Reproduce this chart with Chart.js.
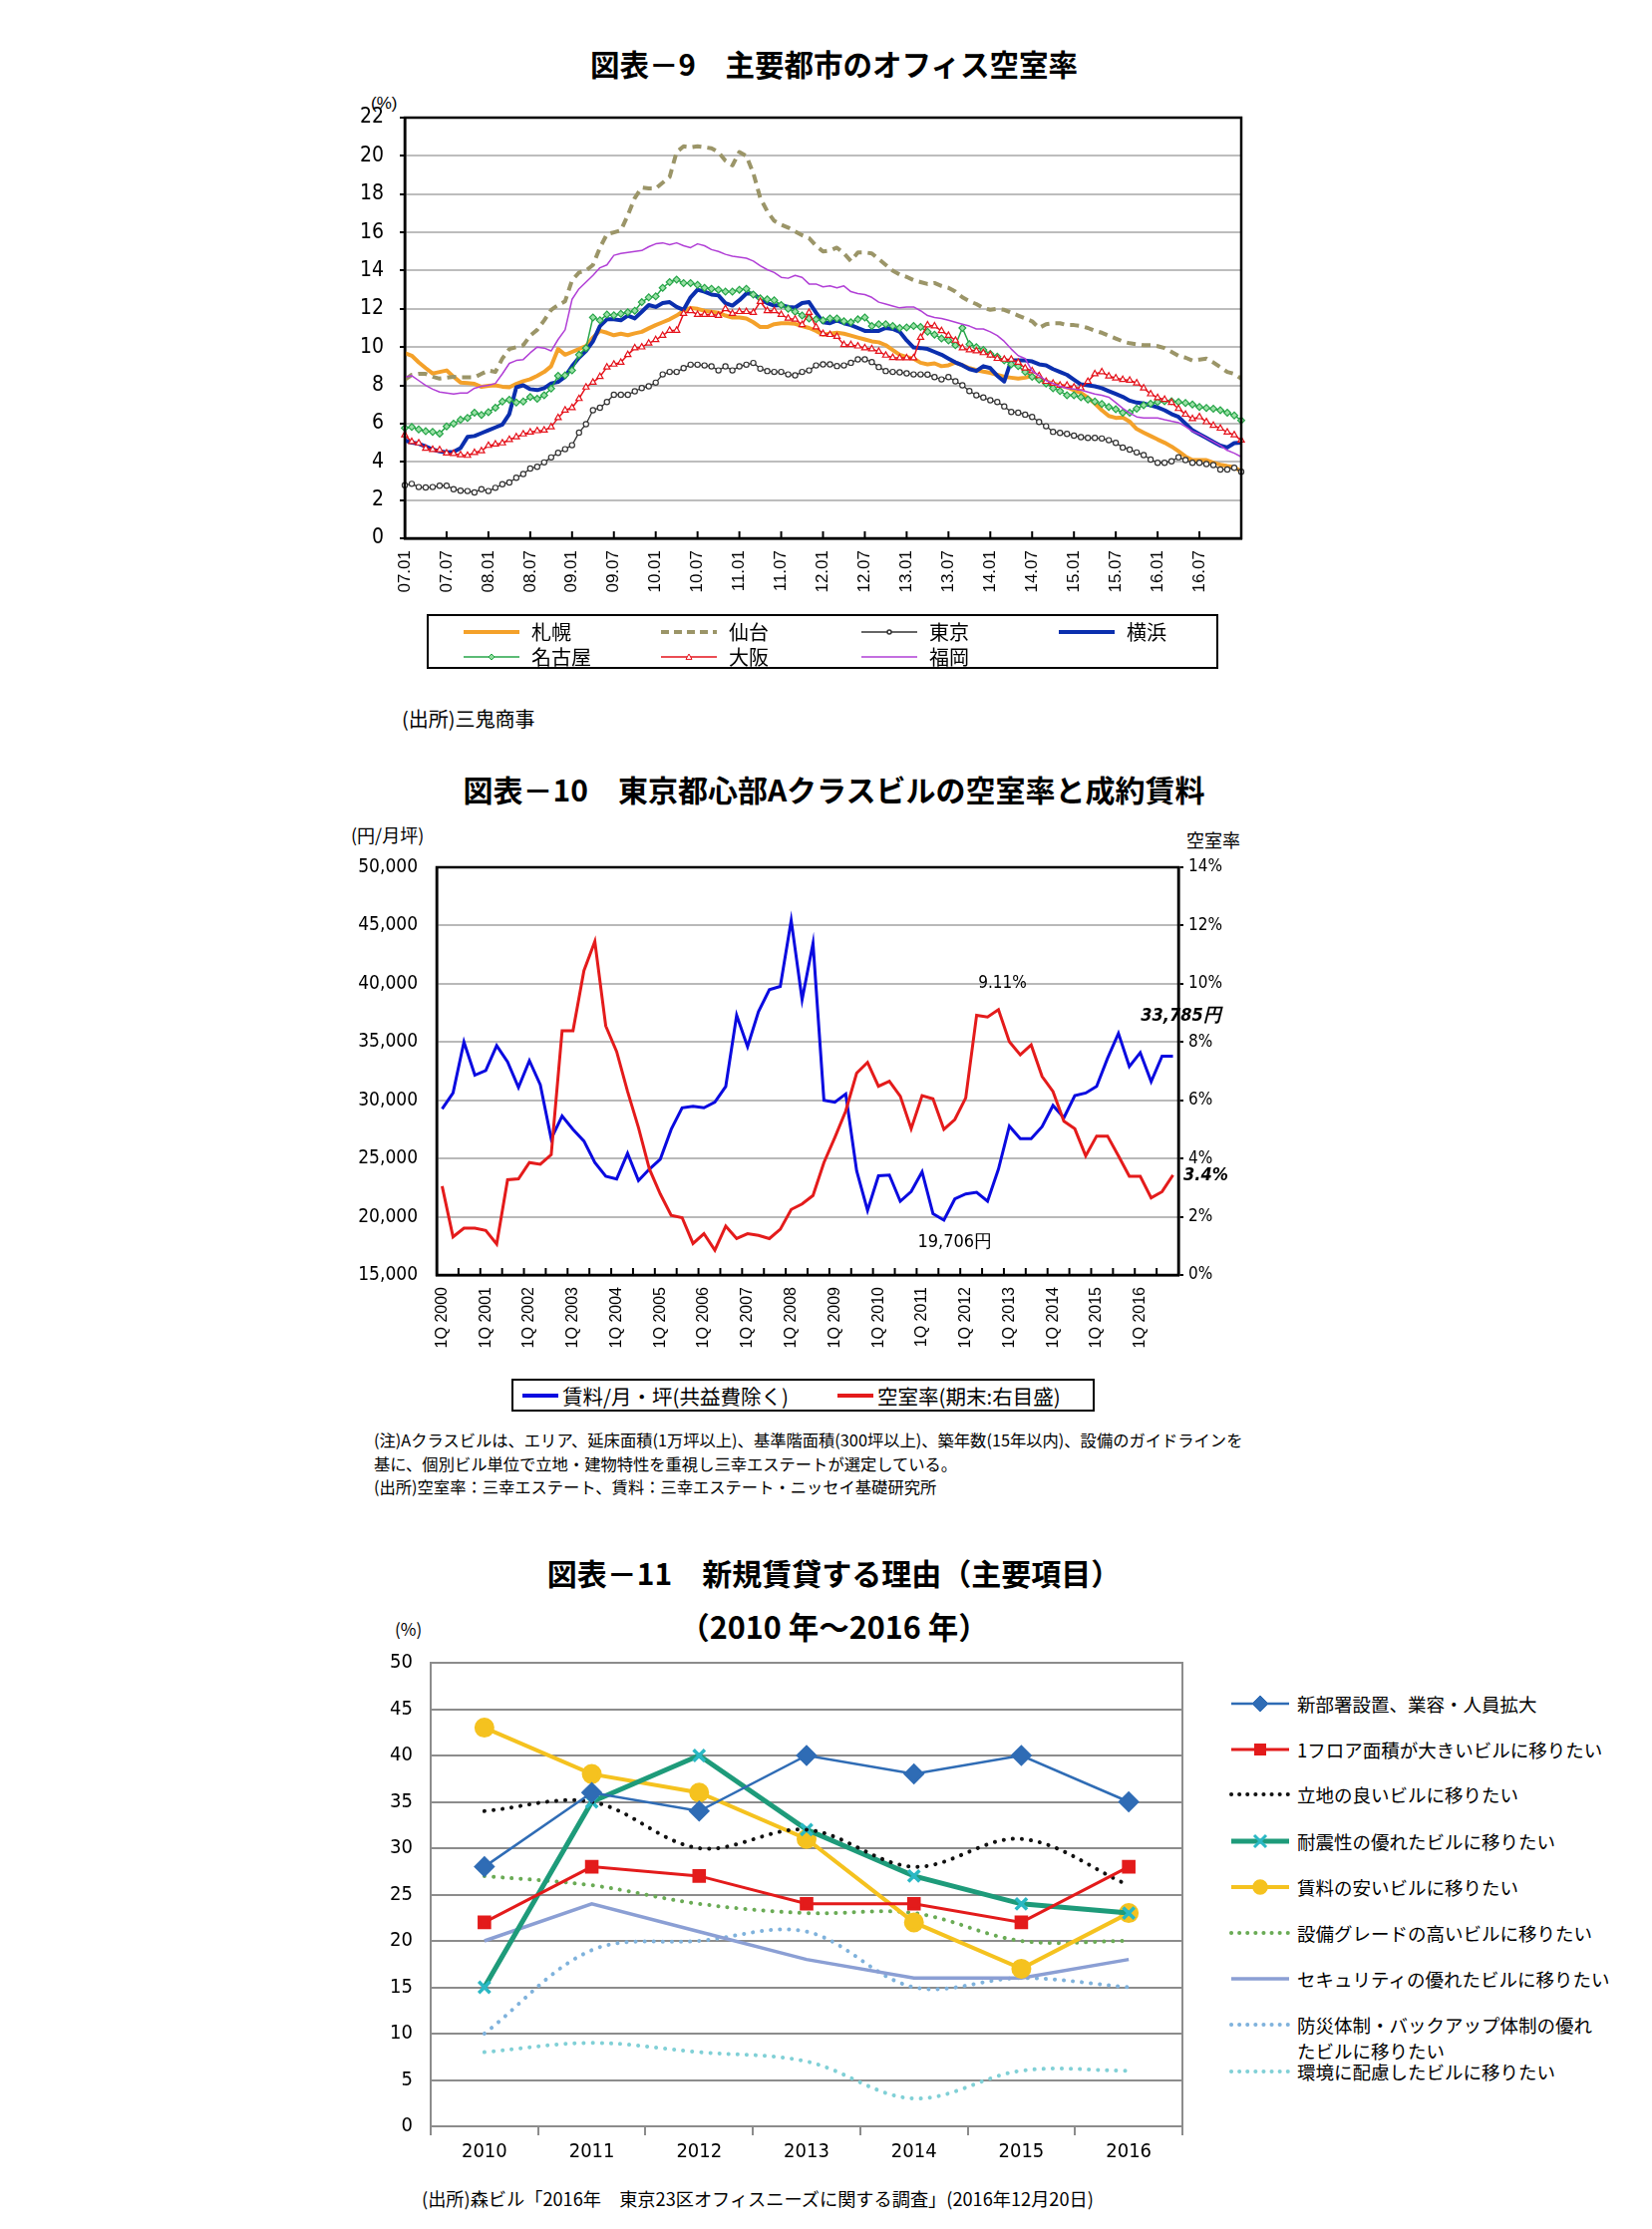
<!DOCTYPE html>
<html><head><meta charset="utf-8">
<script src="https://cdn.jsdelivr.net/npm/chart.js"></script>
<style>
body{margin:0;width:1657px;height:2236px;background:#fff;position:relative;overflow:hidden;font-family:"Noto Sans CJK JP",sans-serif;color:#000}
.t{position:absolute;white-space:nowrap;line-height:1}
.title{left:8px;width:1657px;text-align:center;font-weight:bold;font-size:30px}
.box{position:absolute;border:2px solid #000;box-sizing:border-box}
.cw{position:absolute}
.lg{position:absolute;display:flex;align-items:center;white-space:nowrap;line-height:1}
.lg svg{flex:none}
</style></head><body>

<div class="t title" style="top:49px;font-size:29.5px">図表－9　主要都市のオフィス空室率</div>
<div class="t" style="left:372px;top:95px;font-size:17px;font-family:'Liberation Sans',sans-serif">(%)</div>
<div class="cw" style="left:340px;top:90px;width:940px;height:530px"><canvas id="c1" width="940" height="530"></canvas></div>
<div class="box" id="lg1" style="left:428px;top:616px;width:794px;height:55px"></div>
<div class="t" style="left:403px;top:711px;font-size:20px">(出所)三鬼商事</div>

<div class="t title" style="top:776px">図表－10　東京都心部Aクラスビルの空室率と成約賃料</div>
<div class="t" style="left:352px;top:828px;font-size:18px">(円/月坪)</div>
<div class="t" style="left:1190px;top:833px;font-size:18px">空室率</div>
<div class="cw" style="left:340px;top:855px;width:940px;height:520px"><canvas id="c2" width="940" height="520"></canvas></div>
<div class="box" id="lg2" style="left:513px;top:1383px;width:585px;height:33px"></div>
<div class="t" style="left:375px;top:1433px;font-size:16.3px;line-height:23.5px">(注)Aクラスビルは、エリア、延床面積(1万坪以上)、基準階面積(300坪以上)、築年数(15年以内)、設備のガイドラインを<br>基に、個別ビル単位で立地・建物特性を重視し三幸エステートが選定している。<br>(出所)空室率：三幸エステート、賃料：三幸エステート・ニッセイ基礎研究所</div>

<div class="t title" style="top:1562px">図表－11　新規賃貸する理由（主要項目）</div>
<div class="t title" style="top:1616px;font-size:30.5px">（2010 年～2016 年）</div>
<div class="t" style="left:396px;top:1625px;font-size:17px">(%)</div>
<div class="cw" style="left:340px;top:1650px;width:880px;height:540px"><canvas id="c3" width="880" height="540"></canvas></div>
<div id="lg3"></div>
<div class="t" style="left:423px;top:2196px;font-size:18.2px">(出所)森ビル「2016年　東京23区オフィスニーズに関する調査」(2016年12月20日)</div>

<script>
// ---------- Chart 1 data (monthly, 07.01 - 17.01) ----------
const cities = ['札幌','仙台','東京','横浜','名古屋','大阪','福岡'];
const sapporo = [9.69,9.55,9.2,8.9,8.62,8.7,8.78,8.45,8.15,8.12,8.08,7.92,7.98,8.0,7.93,7.9,8.08,8.22,8.32,8.5,8.7,9.0,9.9,9.6,9.75,9.9,10.05,10.5,10.85,10.75,10.62,10.7,10.62,10.72,10.8,10.98,11.15,11.3,11.45,11.65,11.9,12.05,12.0,11.9,11.85,11.8,11.65,11.55,11.55,11.5,11.3,11.05,11.05,11.2,11.25,11.25,11.22,11.1,11.0,10.85,10.65,
 10.7,10.75,10.7,10.6,10.5,10.4,10.3,10.25,10.1,9.85,9.6,9.48,9.4,9.18,9.1,9.15,9.0,9.05,9.2,9.05,8.9,8.8,8.72,8.65,8.55,8.45,8.4,8.35,8.4,8.5,8.3,8.2,8.1,8.0,7.9,7.75,7.6,7.35,7.05,6.7,6.4,6.3,6.32,6.1,5.72,5.53,5.35,5.17,5.0,4.8,4.55,4.28,4.09,4.09,4.09,3.95,3.85,3.78,3.72,3.5];
const sendai = [8.3,8.55,8.6,8.6,8.45,8.35,8.4,8.45,8.42,8.42,8.42,8.6,8.78,8.7,9.4,9.9,10.0,10.1,10.6,10.9,11.4,11.95,12.2,12.4,13.5,13.9,14.0,14.3,15.2,15.9,16.0,16.1,16.9,17.8,18.35,18.3,18.3,18.6,18.9,20.2,20.5,20.45,20.5,20.45,20.4,20.2,19.75,19.5,20.2,20.0,19.1,17.8,17.1,16.6,16.4,16.25,16.05,15.85,15.7,15.3,15.0,
 15.05,15.2,14.9,14.5,14.95,14.95,14.9,14.6,14.3,14.0,13.8,13.67,13.5,13.4,13.3,13.35,13.2,13.1,12.9,12.6,12.4,12.25,12.05,11.95,12.0,11.95,11.8,11.65,11.5,11.35,11.0,11.2,11.25,11.25,11.15,11.15,11.1,11.0,10.85,10.75,10.6,10.45,10.3,10.2,10.15,10.1,10.1,10.05,9.95,9.75,9.55,9.45,9.3,9.35,9.4,9.2,8.95,8.7,8.6,8.35];
const tokyo = [2.78,2.85,2.68,2.66,2.68,2.75,2.75,2.57,2.49,2.47,2.40,2.57,2.47,2.64,2.83,2.92,3.17,3.36,3.65,3.74,3.97,4.23,4.47,4.66,4.87,5.53,5.97,6.70,6.83,7.13,7.51,7.51,7.51,7.69,7.86,7.95,8.14,8.57,8.70,8.70,8.90,9.08,9.08,9.04,8.99,8.78,8.99,8.78,8.99,9.08,9.17,8.87,8.75,8.70,8.70,8.57,8.52,8.70,8.78,9.04,9.1,
 9.10,9.01,9.04,9.18,9.36,9.36,9.22,8.96,8.75,8.70,8.68,8.63,8.57,8.57,8.56,8.43,8.31,8.43,8.21,8.0,7.70,7.48,7.36,7.22,7.13,6.90,6.61,6.57,6.47,6.35,6.09,5.86,5.57,5.51,5.46,5.37,5.29,5.25,5.25,5.22,5.13,4.99,4.75,4.64,4.49,4.35,4.12,3.95,3.95,4.03,4.24,4.09,3.95,3.95,3.88,3.83,3.60,3.60,3.69,3.48];
const yokohama = [5.13,5.0,4.95,4.8,4.65,4.55,4.5,4.52,4.72,5.3,5.35,5.5,5.65,5.8,5.95,6.5,7.9,8.0,7.8,7.75,7.85,8.1,8.18,8.45,9.0,9.45,9.8,10.3,11.1,11.45,11.45,11.4,11.65,11.5,11.85,12.2,12.1,12.3,12.35,12.1,11.95,12.6,13.0,12.9,12.75,12.7,12.3,12.17,12.45,12.8,12.8,12.5,12.3,12.17,12.2,12.1,12.07,12.3,12.35,11.8,11.3,
 11.25,11.4,11.25,11.15,11.0,10.85,10.85,10.85,11.0,10.95,10.8,10.35,9.98,9.95,9.9,9.75,9.6,9.4,9.2,9.05,8.85,8.75,9.0,8.9,8.5,8.2,9.3,9.3,9.3,9.25,9.1,9.05,8.85,8.7,8.55,8.3,8.05,8.0,7.95,7.85,7.7,7.55,7.4,7.2,7.1,7.05,6.95,6.85,6.7,6.5,6.35,6.0,5.65,5.45,5.25,5.05,4.85,4.75,4.98,5.0];
const nagoya = [5.77,5.82,5.7,5.6,5.57,5.48,5.85,6.0,6.2,6.3,6.57,6.45,6.6,6.83,7.15,7.25,7.1,7.15,7.39,7.3,7.48,7.83,8.5,8.52,8.78,9.6,9.95,11.55,11.4,11.7,11.66,11.74,11.82,11.9,12.35,12.6,12.65,13.1,13.4,13.53,13.35,13.35,13.25,13.1,13.05,13.0,12.9,12.9,13.0,13.05,12.75,12.55,12.5,12.45,12.2,12.0,11.85,11.65,11.5,11.45,11.4,
 11.5,11.5,11.35,11.3,11.45,11.55,11.1,11.2,11.2,11.1,11.0,11.03,11.1,11.05,10.8,10.65,10.45,10.35,10.1,11.0,10.15,10.0,9.85,9.65,9.5,9.3,9.1,9.0,8.7,8.45,8.3,8.1,7.85,7.7,7.48,7.48,7.38,7.26,7.15,7.03,6.87,6.75,6.57,6.57,6.78,6.96,7.04,7.13,7.17,7.17,7.13,7.08,7.0,6.87,6.82,6.78,6.7,6.57,6.43,6.17];
const osaka = [5.4,5.05,4.98,4.7,4.64,4.62,4.45,4.43,4.36,4.33,4.48,4.57,4.85,4.92,4.98,5.16,5.3,5.45,5.55,5.62,5.65,5.82,6.3,6.7,6.83,7.3,7.9,8.15,8.45,8.95,9.1,9.2,9.6,9.95,10.0,10.2,10.38,10.6,10.87,10.87,11.75,11.9,11.7,11.7,11.7,11.65,12.0,11.75,11.85,11.85,11.8,12.38,11.9,11.9,11.7,11.5,11.45,11.17,11.8,11.05,10.7,
 10.65,10.55,10.12,10.12,10.05,9.95,9.9,9.77,9.57,9.45,9.43,9.43,9.43,10.5,11.15,11.1,10.85,10.6,10.35,9.95,9.85,9.8,9.7,9.58,9.4,9.36,9.36,9.2,8.9,8.75,8.5,8.2,8.1,8.0,8.0,7.9,7.85,8.2,8.6,8.7,8.48,8.38,8.3,8.26,8.12,7.85,7.55,7.35,7.26,7.1,6.78,6.48,6.25,6.35,6.09,5.9,5.75,5.55,5.4,5.13];
const fukuoka = [8.43,8.5,8.25,8.0,7.8,7.65,7.6,7.55,7.6,7.6,7.85,7.95,8.0,8.1,8.6,9.15,9.3,9.35,9.7,10.0,9.95,9.8,10.4,10.9,12.5,13.05,13.4,13.75,14.15,14.3,14.8,14.9,14.95,15.0,15.05,15.25,15.4,15.45,15.35,15.45,15.3,15.2,15.4,15.3,15.1,15.0,14.85,14.75,14.7,14.65,14.5,14.25,14.05,13.9,13.65,13.6,13.75,13.65,13.3,13.3,13.15,
 13.2,13.1,13.2,12.9,12.8,12.75,12.6,12.35,12.25,12.15,12.05,12.1,12.1,11.9,11.65,11.55,11.5,11.4,11.3,11.2,11.1,10.95,10.95,10.8,10.6,10.3,9.9,9.55,9.4,8.75,8.5,8.25,8.1,7.95,7.85,7.8,7.75,7.65,7.55,7.48,7.38,7.1,6.8,6.55,6.35,6.3,6.3,6.3,6.2,6.12,6.05,5.85,5.6,5.45,5.25,5.05,4.85,4.6,4.45,4.26];
const monthLabels = [];
for (let y = 7; y <= 17; y++) for (let m = 1; m <= 12; m++) { if (y === 17 && m > 1) break; monthLabels.push(String(y).padStart(2,'0') + '.' + String(m).padStart(2,'0')); }
const yTicks1 = [0,2,4,6,8,10,12,14,16,18,20,22];

// ---------- Chart 2 data (quarterly, 1Q2000 - 4Q2016) ----------
const rentName = '賃料/月・坪(共益費除く)';
const vacName = '空室率(期末:右目盛)';
const rent = [29260,30625,35000,32150,32550,34700,33300,31100,33400,31330,26700,28640,27500,26500,24660,23470,23240,25450,23100,24090,24940,27500,29350,29490,29350,29830,31190,37300,34600,37600,39490,39770,45450,38640,43470,30000,29830,30540,23950,20540,23520,23580,21330,22160,23860,20260,19706,21530,21960,22100,21330,24090,27780,26700,26700,27730,29550,28500,30400,30620,31190,33600,35740,32900,34090,31600,33785,33785];
const vacancy = [3.05,1.31,1.61,1.61,1.53,1.06,3.27,3.3,3.86,3.8,4.13,8.39,8.39,10.45,11.45,8.55,7.67,6.3,5.06,3.64,2.78,2.05,1.97,1.08,1.42,0.85,1.68,1.25,1.42,1.36,1.25,1.57,2.25,2.44,2.73,3.86,4.72,5.63,6.93,7.3,6.48,6.65,6.14,5.02,6.16,6.05,5.0,5.34,6.08,8.92,8.86,9.11,8.01,7.56,7.9,6.82,6.3,5.28,5.02,4.09,4.77,4.77,4.09,3.39,3.39,2.65,2.86,3.43];
const quarterLabels = [];
for (let y = 2000; y <= 2016; y++) for (let q = 1; q <= 4; q++) quarterLabels.push(q + 'Q ' + y);
const rentTicks = [15000,20000,25000,30000,35000,40000,45000,50000];
const vacTicks = [0,2,4,6,8,10,12,14];

// ---------- Chart 3 data ----------
const years3 = ['2010','2011','2012','2013','2014','2015','2016'];
const reasons = ['新部署設置、業容・人員拡大','1フロア面積が大きいビルに移りたい','立地の良いビルに移りたい','耐震性の優れたビルに移りたい','賃料の安いビルに移りたい','設備グレードの高いビルに移りたい','セキュリティの優れたビルに移りたい','防災体制・バックアップ体制の優れたビルに移りたい','環境に配慮したビルに移りたい'];
const r1 = [28,36,34,40,38,40,35];
const r2 = [22,28,27,24,24,22,28];
const r3 = [34,35,30,32,28,31,26];
const r4 = [15,35,40,32,27,24,23];
const r5 = [43,38,36,31,22,17,23];
const r6 = [27,26,24,23,23,20,20];
const r7 = [20,24,21,18,16,16,18];
const r8 = [10,19,20,21,15,16,15];
const r9 = [8,9,8,7,3,6,6];

// ---------- helpers ----------
const NARROW = "'Liberation Sans Narrow','DejaVu Sans Condensed',sans-serif";
const ARIAL = "'Liberation Sans',Arial,sans-serif";
Chart.defaults.font.family = ARIAL;
Chart.defaults.color = '#000';

const fitY = w => s => { s.width = w; s.paddingTop = 0; s.paddingBottom = 0; };
const fitX = h => s => { s.height = h; s.paddingLeft = 0; s.paddingRight = 0; };

const frame = {
  id: 'frame',
  afterDatasetsDraw(chart, a, o) {
    const c = chart.ctx, r = chart.chartArea;
    c.save(); c.strokeStyle = o.color; c.lineWidth = o.width;
    c.strokeRect(r.left, r.top, r.right - r.left, r.bottom - r.top);
    c.restore();
  }
};
const innerTicks = {
  id: 'innerTicks',
  afterDatasetsDraw(chart, a, o) {
    if (!o.mode) return;
    const c = chart.ctx, r = chart.chartArea, x = chart.scales.x;
    c.save(); c.strokeStyle = '#000'; c.lineWidth = 2;
    const n = chart.data.labels.length;
    const xs = [];
    if (o.mode === 'onTick') {
      for (let i = o.every; i < n - 1; i += o.every) xs.push(x.getPixelForValue(i));
    } else {
      for (let i = o.every; i < n; i += o.every) xs.push((x.getPixelForValue(i - 1) + x.getPixelForValue(i)) / 2);
    }
    xs.forEach(px => { c.beginPath(); c.moveTo(px, r.bottom); c.lineTo(px, r.bottom - o.len); c.stroke(); });
    c.restore();
  }
};

function svgSample(w, h, s) {
  const y = h / 2;
  let dash = '';
  if (s.dash) dash = `stroke-dasharray="${s.dash}"`;
  let out = `<svg width="${w}" height="${h}" xmlns="http://www.w3.org/2000/svg">`;
  out += `<line x1="2" y1="${y}" x2="${w - 2}" y2="${y}" stroke="${s.color}" stroke-width="${s.width}" ${dash} stroke-linecap="${s.cap || 'butt'}"/>`;
  const cx = w / 2, r = s.mr || 0;
  if (s.marker === 'circle') out += `<circle cx="${cx}" cy="${y}" r="${r}" fill="${s.mfill}" stroke="${s.mcolor}" stroke-width="1.5"/>`;
  if (s.marker === 'diamond') out += `<polygon points="${cx},${y - r} ${cx + r},${y} ${cx},${y + r} ${cx - r},${y}" fill="${s.mfill}" stroke="${s.mcolor}" stroke-width="1"/>`;
  if (s.marker === 'triangle') out += `<polygon points="${cx},${y - r} ${cx + r},${y + r * 0.8} ${cx - r},${y + r * 0.8}" fill="${s.mfill}" stroke="${s.mcolor}" stroke-width="1"/>`;
  if (s.marker === 'square') out += `<rect x="${cx - r}" y="${y - r}" width="${2 * r}" height="${2 * r}" fill="${s.mfill}"/>`;
  if (s.marker === 'x') out += `<path d="M${cx - r},${y - r}L${cx + r},${y + r}M${cx + r},${y - r}L${cx - r},${y + r}" stroke="${s.mcolor}" stroke-width="3"/>`;
  return out + '</svg>';
}

// ---------- Chart 1 ----------
const st1 = [
  {color:'#f4a12a', width:4},
  {color:'#9b9568', width:4, dash:'8,5'},
  {color:'#333', width:1.3, marker:'circle', mr:2, mfill:'#fff', mcolor:'#333'},
  {color:'#0b2fae', width:4},
  {color:'#26a548', width:1.5, marker:'diamond', mr:3, mfill:'#8fdc9c', mcolor:'#26a548'},
  {color:'#e5121b', width:1.5, marker:'triangle', mr:3, mfill:'#fff', mcolor:'#e5121b'},
  {color:'#b13fd6', width:1.5}
];
const series1 = [sapporo, sendai, tokyo, yokohama, nagoya, osaka, fukuoka];
const order1 = [7, 6, 4, 5, 3, 2, 1];
const ds1 = series1.map((d, i) => {
  const s = st1[i];
  const o = {label: cities[i], data: d, borderColor: s.color, borderWidth: s.width, pointRadius: 0, tension: 0, order: order1[i], borderJoinStyle: 'round'};
  if (s.dash) o.borderDash = [9, 6];
  if (s.marker === 'circle') Object.assign(o, {pointStyle: 'circle', pointRadius: 2.6, pointBackgroundColor: '#fff', pointBorderColor: '#333', pointBorderWidth: 1.2});
  if (s.marker === 'diamond') Object.assign(o, {pointStyle: 'rectRot', pointRadius: 3.4, pointBackgroundColor: '#9be0a6', pointBorderColor: '#26a548', pointBorderWidth: 1.2});
  if (s.marker === 'triangle') Object.assign(o, {pointStyle: 'triangle', pointRadius: 3.6, pointBackgroundColor: '#fff', pointBorderColor: '#e5121b', pointBorderWidth: 1.2});
  return o;
});
new Chart(document.getElementById('c1'), {
  type: 'line',
  data: {labels: monthLabels, datasets: ds1},
  options: {
    responsive: false, animation: false, devicePixelRatio: 1,
    layout: {padding: {left: 0, top: 28, right: 35, bottom: 0}},
    plugins: {legend: {display: false}, tooltip: {enabled: false}, frame: {color: '#000', width: 2.5}, innerTicks: {mode: 'onTick', every: 6, len: 7}},
    scales: {
      x: {type: 'category', offset: false,
        grid: {display: false, drawTicks: false},
        border: {display: true, color: '#000', width: 2.5},
        ticks: {autoSkip: false, maxRotation: 90, minRotation: 90, padding: 12, font: {family: ARIAL, size: 17},
          callback: (v, i) => (i % 6 === 0 && i < 120) ? monthLabels[i] : ''},
        afterFit: fitX(80)},
      y: {min: 0, max: 22, afterBuildTicks: s => { s.ticks = yTicks1.map(v => ({value: v})); },
        grid: {color: c => (c.tick && c.tick.value === 0) ? 'rgba(0,0,0,0)' : '#bdbdbd', lineWidth: 2, tickColor: '#000', tickLength: 5},
        border: {color: '#000', width: 2.5},
        ticks: {padding: 16, font: {family: NARROW, size: 21}},
        afterFit: fitY(66)}
    }
  },
  plugins: [frame, innerTicks]
});
(function () {
  const box = document.getElementById('lg1');
  const colX = [33, 231, 432, 630], rowY = [16, 41];
  cities.forEach((n, i) => {
    const d = document.createElement('div');
    d.className = 'lg';
    d.style.left = colX[i % 4] + 'px';
    d.style.top = (rowY[Math.floor(i / 4)] - 10) + 'px';
    d.style.height = '20px';
    d.style.fontSize = '20px';
    d.innerHTML = svgSample(60, 14, st1[i]) + `<span style="margin-left:10px">${n}</span>`;
    box.appendChild(d);
  });
})();

// ---------- Chart 2 ----------
const notes2 = {
  id: 'notes2',
  afterDatasetsDraw(chart) {
    const c = chart.ctx, x = chart.scales.x, yl = chart.scales.y, yr = chart.scales.y2;
    c.save(); c.fillStyle = '#000'; c.textBaseline = 'middle';
    const iMax = vacancy.indexOf(Math.max(...vacancy.slice(40)), 40);
    c.font = "17px " + NARROW; c.textAlign = 'center';
    c.fillText(vacancy[iMax].toFixed(2) + '%', x.getPixelForValue(iMax) + 4, yr.getPixelForValue(vacancy[iMax]) - 26);
    const iMin = rent.indexOf(Math.min(...rent));
    c.font = "18px " + NARROW;
    c.fillText(rent[iMin].toLocaleString('en-US') + '円', x.getPixelForValue(iMin) + 11, yl.getPixelForValue(rent[iMin]) + 22);
    const L = rent.length - 1;
    c.font = "italic bold 18px " + NARROW;
    c.fillText(rent[L].toLocaleString('en-US') + '円', x.getPixelForValue(L) + 8, yl.getPixelForValue(rent[L]) - 40);
    c.textAlign = 'left';
    c.fillText(vacancy[L].toFixed(1) + '%', chart.chartArea.right + 5, yr.getPixelForValue(vacancy[L]) + 1);
    c.restore();
  }
};
new Chart(document.getElementById('c2'), {
  type: 'line',
  data: {labels: quarterLabels, datasets: [
    {label: rentName, data: rent, yAxisID: 'y', borderColor: '#0a0ae0', borderWidth: 3, pointRadius: 0, tension: 0, order: 2},
    {label: vacName, data: vacancy, yAxisID: 'y2', borderColor: '#e41b1b', borderWidth: 3, pointRadius: 0, tension: 0, order: 1}
  ]},
  options: {
    responsive: false, animation: false, devicePixelRatio: 1,
    layout: {padding: {left: 0, top: 15, right: 0, bottom: 0}},
    plugins: {legend: {display: false}, tooltip: {enabled: false}, frame: {color: '#000', width: 2.5}, innerTicks: {mode: 'between', every: 2, len: 7}},
    scales: {
      x: {type: 'category', offset: true,
        grid: {display: false, drawTicks: false},
        border: {display: true, color: '#000', width: 2.5},
        ticks: {autoSkip: false, maxRotation: 90, minRotation: 90, padding: 12, font: {family: ARIAL, size: 16},
          callback: (v, i) => (i % 4 === 0) ? quarterLabels[i] : ''},
        afterFit: fitX(96)},
      y: {position: 'left', min: 15000, max: 50000, afterBuildTicks: s => { s.ticks = rentTicks.map(v => ({value: v})); },
        grid: {color: c => (c.tick && (c.tick.value === 15000 || c.tick.value === 50000)) ? 'rgba(0,0,0,0)' : '#b9b9b9', lineWidth: 2, drawTicks: false},
        border: {color: '#000', width: 2.5},
        ticks: {padding: 19, font: {family: NARROW, size: 19}, callback: v => v.toLocaleString('en-US')},
        afterFit: fitY(98)},
      y2: {position: 'right', min: 0, max: 14, afterBuildTicks: s => { s.ticks = vacTicks.map(v => ({value: v})); },
        grid: {drawOnChartArea: false, color: '#000', tickLength: 5, lineWidth: 2},
        border: {color: '#000', width: 2.5},
        ticks: {padding: 5, font: {family: NARROW, size: 17}, callback: v => v + '%'},
        afterFit: fitY(98)}
    }
  },
  plugins: [frame, innerTicks, notes2]
});
(function () {
  const box = document.getElementById('lg2');
  const items = [[rentName, '#0a0ae0', 7], [vacName, '#e41b1b', 323]];
  items.forEach(([n, col, x]) => {
    const d = document.createElement('div');
    d.className = 'lg';
    d.style.left = x + 'px'; d.style.top = '5px'; d.style.height = '20px'; d.style.fontSize = '20.5px';
    d.innerHTML = svgSample(40, 10, {color: col, width: 4}) + `<span style="margin-left:2px">${n}</span>`;
    box.appendChild(d);
  });
})();

// ---------- Chart 3 ----------
const st3 = [
  {color:'#2f6cb5', width:2.5, marker:'diamond', mr:8, mfill:'#2f6cb5', mcolor:'#2f6cb5'},
  {color:'#e31b1b', width:3, marker:'square', mr:6, mfill:'#e31b1b', mcolor:'#e31b1b'},
  {color:'#111', width:4, dash:'0.1,8', cap:'round'},
  {color:'#1e9b7a', width:5, marker:'x', mr:6, mfill:'#2ab8c4', mcolor:'#2ab8c4'},
  {color:'#f5c21f', width:4, marker:'circle', mr:7, mfill:'#f5c21f', mcolor:'#f5c21f'},
  {color:'#6aab55', width:4, dash:'0.1,8', cap:'round'},
  {color:'#8b9fd4', width:3.5},
  {color:'#7fb2dc', width:4, dash:'0.1,8', cap:'round'},
  {color:'#80d0d6', width:4, dash:'0.1,8', cap:'round'}
];
const series3 = [r1, r2, r3, r4, r5, r6, r7, r8, r9];
const ds3 = series3.map((d, i) => {
  const s = st3[i];
  const o = {label: reasons[i], data: d, borderColor: s.color, borderWidth: s.width, pointRadius: 0, tension: 0, order: i};
  if (s.dash) Object.assign(o, {borderDash: [0.1, 9], borderCapStyle: 'round', tension: 0.35});
  if (s.marker === 'diamond') Object.assign(o, {pointStyle: 'rectRot', pointRadius: 9, pointBackgroundColor: s.mfill, pointBorderColor: s.mcolor});
  if (s.marker === 'square') Object.assign(o, {pointStyle: 'rect', pointRadius: 7.5, pointBackgroundColor: s.mfill, pointBorderColor: s.mcolor});
  if (s.marker === 'x') Object.assign(o, {pointStyle: 'crossRot', pointRadius: 8, pointBorderColor: s.mcolor, pointBorderWidth: 3.5});
  if (s.marker === 'circle') Object.assign(o, {pointStyle: 'circle', pointRadius: 8, pointBackgroundColor: s.mfill, pointBorderColor: s.mcolor});
  return o;
});
new Chart(document.getElementById('c3'), {
  type: 'line',
  data: {labels: years3, datasets: ds3},
  options: {
    responsive: false, animation: false, devicePixelRatio: 1,
    layout: {padding: {left: 0, top: 18, right: 34, bottom: 0}},
    plugins: {legend: {display: false}, tooltip: {enabled: false}, frame: {color: '#8c8c8c', width: 2}},
    scales: {
      x: {type: 'category', offset: true,
        grid: {offset: true, drawOnChartArea: false, color: '#8c8c8c', tickLength: 9, lineWidth: 2},
        border: {color: '#8c8c8c', width: 2},
        ticks: {padding: 5, font: {family: NARROW, size: 20}},
        afterFit: fitX(57)},
      y: {min: 0, max: 50, ticks: {stepSize: 5, padding: 18, font: {family: NARROW, size: 20}},
        grid: {color: '#8c8c8c', lineWidth: 2, drawTicks: false},
        border: {color: '#8c8c8c', width: 2},
        afterFit: fitY(92)}
    }
  },
  plugins: [frame]
});
(function () {
  const box = document.getElementById('lg3');
  const rowsY = [1709, 1755, 1800, 1847, 1893, 1939, 1985, 2031, 2078];
  reasons.forEach((n, i) => {
    const d = document.createElement('div');
    d.className = 'lg';
    d.style.left = '1233px';
    d.style.top = (rowsY[i] - 11) + 'px';
    d.style.fontSize = '18.5px';
    d.style.alignItems = 'flex-start';
    let txt = n;
    if (i === 7) txt = n.slice(0, 16) + '<br>' + n.slice(16);
    d.innerHTML = `<div style="height:22px;display:flex;align-items:center">` + svgSample(62, 20, st3[i]) + `</div><span style="margin-left:6px;line-height:26px;margin-top:-2px">${txt}</span>`;
    box.appendChild(d);
  });
})();
</script>
</body></html>
